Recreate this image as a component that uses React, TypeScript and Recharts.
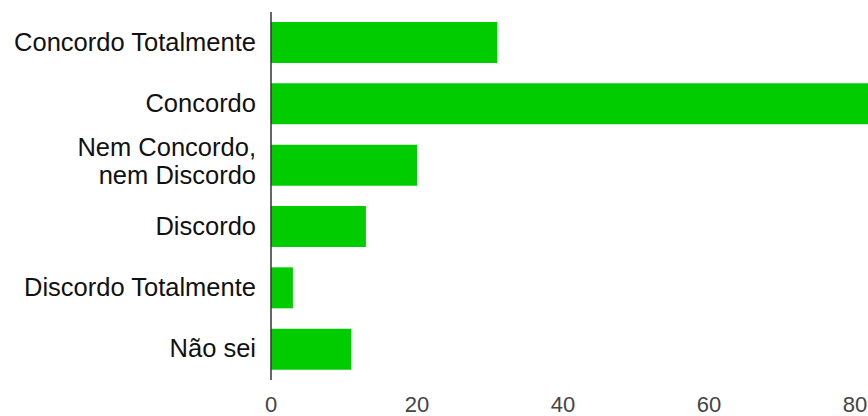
import { BarChart, Bar, XAxis, YAxis } from "recharts";

const categories = [
  "Concordo Totalmente",
  "Concordo",
  "Nem Concordo,\nnem Discordo",
  "Discordo",
  "Discordo Totalmente",
  "Não sei",
];
const values = [31, 85, 20, 13, 3, 11];
const xTicks = [0, 20, 40, 60, 80];

const data = categories.map((name, i) => ({ name, value: values[i] }));

const FONT = "'Liberation Sans', Arial, sans-serif";

function CategoryTick(props: any) {
  const { x, y, payload } = props;
  const lines = String(payload.value).split("\n");
  const lineH = 28;
  const start = -((lines.length - 1) * lineH) / 2;
  const shift = lines.length > 1 ? 5 : 8;
  return (
    <text x={x} y={y} textAnchor="end" fill="#111" fontSize={25.5} fontFamily={FONT}>
      {lines.map((l, i) => (
        <tspan key={i} x={x} dy={i === 0 ? start + shift : lineH}>
          {l}
        </tspan>
      ))}
    </text>
  );
}

export default function App() {
  return (
    <div
      style={{
        position: "fixed",
        left: 0,
        top: 0,
        width: 868,
        height: 416,
        overflow: "hidden",
        background: "#fff",
      }}
    >
      <BarChart
        width={960}
        height={416}
        data={data}
        layout="vertical"
        margin={{ top: 12, right: 32, bottom: 0, left: 0 }}
      >
        <XAxis
          type="number"
          domain={[0, 90]}
          ticks={xTicks}
          axisLine={false}
          tickLine={false}
          tickSize={0}
          tickMargin={16}
          height={36}
          tick={{ fill: "#444", fontSize: 22, fontFamily: FONT }}
        />
        <YAxis
          type="category"
          dataKey="name"
          width={271}
          tickLine={false}
          tickSize={0}
          tickMargin={15}
          axisLine={{ stroke: "#333", strokeWidth: 1.5 }}
          tick={<CategoryTick />}
          interval={0}
        />
        <Bar dataKey="value" fill="#00cc00" barSize={41} isAnimationActive={false} />
      </BarChart>
    </div>
  );
}
